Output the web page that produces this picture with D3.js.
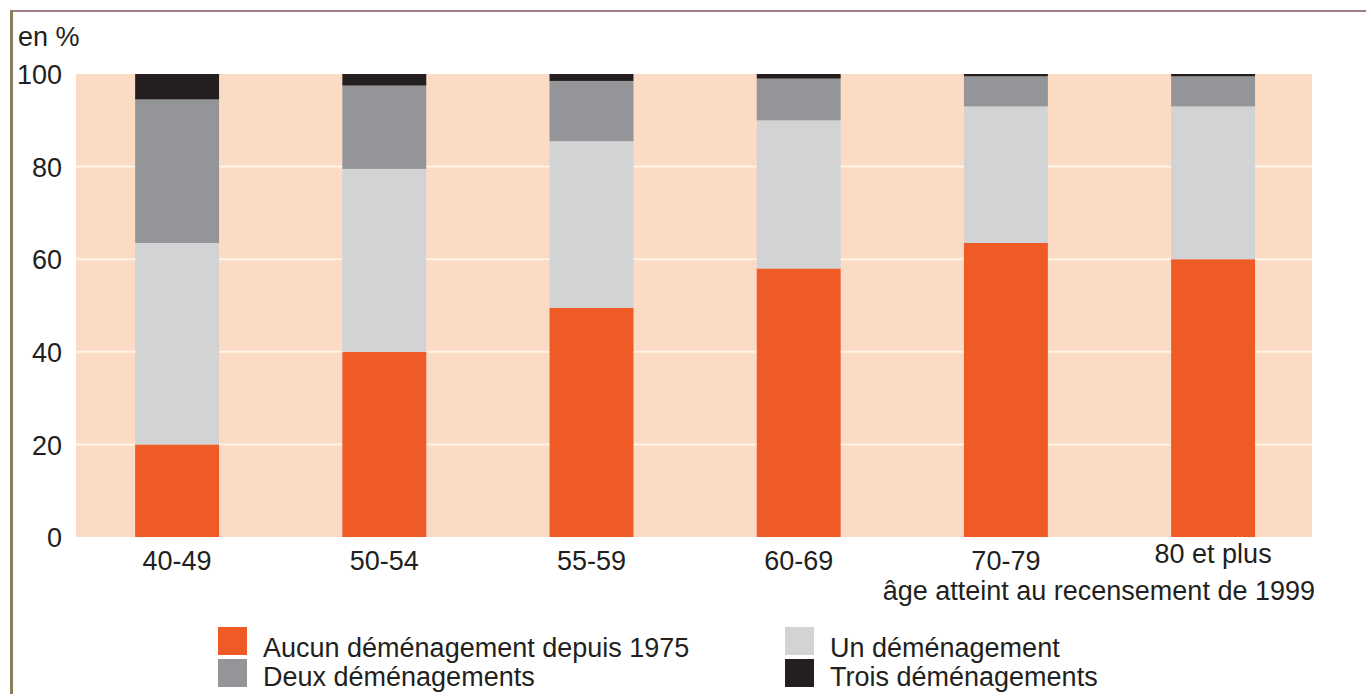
<!DOCTYPE html>
<html>
<head>
<meta charset="utf-8">
<script src="https://cdn.jsdelivr.net/npm/d3@7"></script>
<style>
  html, body { margin: 0; padding: 0; background: #ffffff; }
  svg { display: block; }
  text { font-family: "Liberation Sans", Arial, sans-serif; fill: #231f20; }
</style>
</head>
<body>
<svg id="chart" width="1366" height="694"></svg>
<script>
// ---- data ----
const categories = ["40-49", "50-54", "55-59", "60-69", "70-79", "80 et plus"];
const aucun = [20, 40, 49.5, 58, 63.5, 60];
const un    = [43.5, 39.5, 36, 32, 29.5, 33];
const deux  = [31, 18, 13, 9, 6.5, 6.5];
const trois = [5.5, 2.5, 1.5, 1, 0.5, 0.5];
const seriesNames = ["Aucun déménagement depuis 1975", "Un déménagement", "Deux déménagements", "Trois déménagements"];
const yTicks = [0, 20, 40, 60, 80, 100];
const yUnitLabel = "en %";
const xAxisTitle = "âge atteint au recensement de 1999";

const colors = ["#ef5b27", "#d1d3d4", "#939598", "#231f20"];

const rows = categories.map((c, i) => ({ cat: c, s0: aucun[i], s1: un[i], s2: deux[i], s3: trois[i] }));
const keys = ["s0", "s1", "s2", "s3"];

const svg = d3.select("#chart");

// frame
svg.append("line").attr("x1", 11).attr("x2", 1366).attr("y1", 11).attr("y2", 11)
  .attr("stroke", "#9a8082").attr("stroke-width", 2);
svg.append("line").attr("x1", 11.5).attr("x2", 11.5).attr("y1", 10).attr("y2", 694)
  .attr("stroke", "#8e7c5c").attr("stroke-width", 3);

const plotL = 76, plotR = 1312, plotT = 74, plotB = 537;

const x = d3.scaleBand().domain(categories).range([73.5, 1316.7])
  .paddingInner(0.595).paddingOuter(0.2975);
const y = d3.scaleLinear().domain([0, 100]).range([plotB, plotT]);

// plot background
svg.append("rect").attr("x", plotL).attr("y", plotT)
  .attr("width", plotR - plotL).attr("height", plotB - plotT)
  .attr("fill", "#fcdbc5");

// gridlines
svg.append("g").selectAll("line").data(yTicks.filter(t => t > 0 && t < 100)).join("line")
  .attr("x1", plotL).attr("x2", plotR)
  .attr("y1", d => y(d)).attr("y2", d => y(d))
  .attr("stroke", "#fff4e6").attr("stroke-width", 2);

// bars
const stacked = d3.stack().keys(keys)(rows);
svg.append("g").selectAll("g").data(stacked).join("g")
  .attr("fill", (d, i) => colors[i])
  .selectAll("rect").data(d => d).join("rect")
  .attr("x", d => x(d.data.cat))
  .attr("width", x.bandwidth())
  .attr("y", d => y(d[1]))
  .attr("height", d => y(d[0]) - y(d[1]));

// y axis labels
const yAxis = d3.axisLeft(y).tickValues(yTicks).tickSize(0).tickPadding(0);
const gy = svg.append("g").attr("transform", "translate(62,0)").call(yAxis);
gy.select(".domain").remove();
gy.selectAll("text").attr("font-size", 27).attr("fill", "#231f20")
  .attr("font-family", "Liberation Sans, Arial, sans-serif").attr("dy", "0.36em");

// x axis labels
const xAxis = d3.axisBottom(x).tickSize(0).tickPadding(0);
const gx = svg.append("g").attr("transform", "translate(0,548)").call(xAxis);
gx.select(".domain").remove();
gx.selectAll("text").attr("font-size", 27).attr("fill", "#231f20")
  .attr("font-family", "Liberation Sans, Arial, sans-serif")
  .attr("dy", d => d === "80 et plus" ? "0.55em" : "0.8em");

// axis title and unit
svg.append("text").attr("x", 1315).attr("y", 600).attr("text-anchor", "end")
  .attr("font-size", 27).text(xAxisTitle);
svg.append("text").attr("x", 18).attr("y", 46).attr("font-size", 27).text(yUnitLabel);

// legend
const legendPos = [
  { sx: 218, tx: 263, y: 627 },
  { sx: 785, tx: 830, y: 627 },
  { sx: 218, tx: 263, y: 659 },
  { sx: 785, tx: 830, y: 659 }
];
const lg = svg.append("g");
seriesNames.forEach((name, i) => {
  const p = legendPos[i];
  lg.append("rect").attr("x", p.sx).attr("y", p.y).attr("width", 29).attr("height", 28)
    .attr("fill", colors[i]);
  lg.append("text").attr("x", p.tx).attr("y", i < 2 ? 657 : 686)
    .attr("font-size", 27).text(name);
});
</script>
</body>
</html>
